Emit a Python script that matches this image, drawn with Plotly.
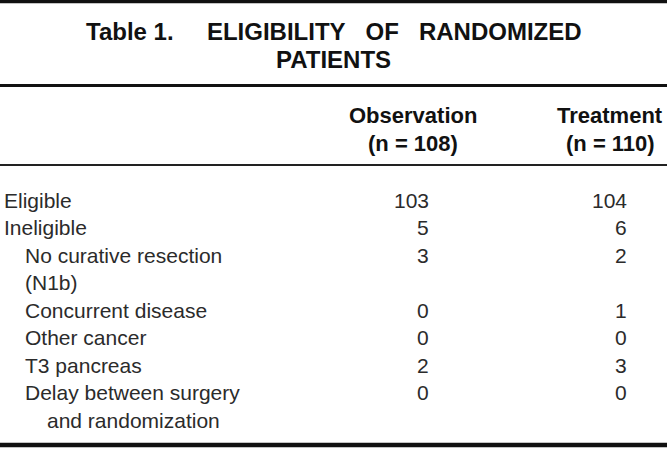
import plotly.graph_objects as go

# ---- data ----
NB = "\u00a0"
title_lines = [f"Table{NB}1.{NB*5}ELIGIBILITY{NB*3}OF{NB*3}RANDOMIZED", "PATIENTS"]
column_headers = ["Observation", "Treatment"]
column_ns = ["(n = 108)", "(n = 110)"]
row_labels = [
    "Eligible",
    "Ineligible",
    "No curative resection",
    "(N1b)",
    "Concurrent disease",
    "Other cancer",
    "T3 pancreas",
    "Delay between surgery",
    "and randomization",
]
row_indent = [0, 0, 1, 1, 1, 1, 1, 1, 2]
observation = [103, 5, 3, None, 0, 0, 2, 0, None]
treatment = [104, 6, 2, None, 1, 0, 3, 0, None]

# ---- layout constants ----
W, H = 667, 449
BODY = "Liberation Sans, Arial, Helvetica, sans-serif"
row_y0, row_dy = 200, 27.5
indent_x = [2, 23, 45]
col_right = [431, 629]
col_center = [413, 610]

fig = go.Figure()
ann = []

# title
for i, t in enumerate(title_lines):
    ann.append(dict(x=W / 2, y=31 + 28.5 * i, text=f"<b>{t}</b>", xanchor="center", yanchor="middle",
                    font=dict(family=BODY, size=24, color="#111")))
# headers
for j in range(2):
    ann.append(dict(x=col_center[j], y=115, text=f"<b>{column_headers[j]}</b>", xanchor="center",
                    yanchor="middle", font=dict(family=BODY, size=22, color="#111")))
    ann.append(dict(x=col_center[j], y=143, text=f"<b>{column_ns[j]}</b>", xanchor="center",
                    yanchor="middle", font=dict(family=BODY, size=22, color="#111")))
# rows
for i, lab in enumerate(row_labels):
    y = row_y0 + row_dy * i
    ann.append(dict(x=indent_x[row_indent[i]], y=y, text=lab, xanchor="left", yanchor="middle",
                    font=dict(family=BODY, size=21, color="#2b2b2b")))
    for j, series in enumerate([observation, treatment]):
        v = series[i]
        if v is not None:
            ann.append(dict(x=col_right[j], y=y, text=str(v), xanchor="right", yanchor="middle",
                            font=dict(family=BODY, size=21, color="#2b2b2b")))

for a in ann:
    a.update(xref="x", yref="y", showarrow=False)


def py(ypix):
    return 1 - ypix / H


rules = [(1.5, 3.5, "#111"), (85.5, 3, "#111"), (165, 2, "#222"), (445, 4.5, "#111")]
shapes = [dict(type="line", xref="paper", yref="paper", x0=0, x1=1, y0=py(yp), y1=py(yp),
               line=dict(color=c, width=w)) for yp, w, c in rules]

fig.update_layout(
    width=W, height=H,
    margin=dict(l=0, r=0, t=0, b=0),
    paper_bgcolor="white", plot_bgcolor="white",
    xaxis=dict(range=[0, W], visible=False, fixedrange=True),
    yaxis=dict(range=[H, 0], visible=False, fixedrange=True),
    annotations=ann, shapes=shapes, showlegend=False,
)
fig.write_html(
    "out.html",
    config={"displayModeBar": False},
    post_script="document.body.style.margin='0';document.body.style.overflow='hidden';",
)
